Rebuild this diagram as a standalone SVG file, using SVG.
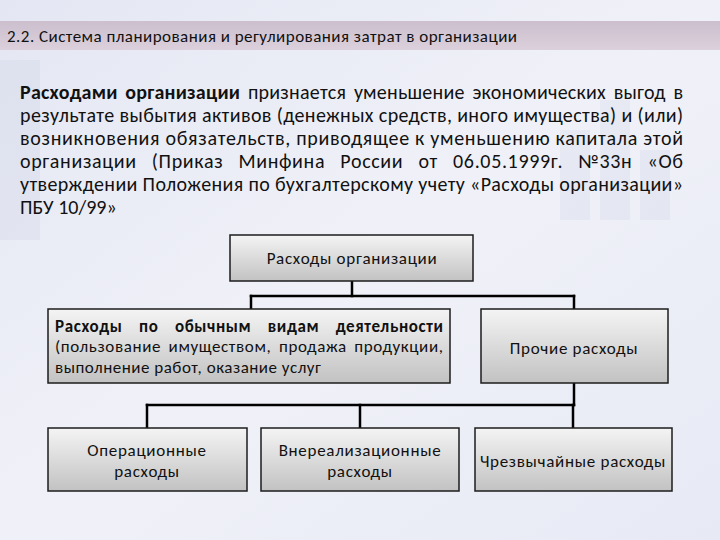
<svg xmlns="http://www.w3.org/2000/svg" width="720" height="540" viewBox="0 0 720 540">
<defs>
<linearGradient id="bg" x1="0" y1="0" x2="1" y2="1">
<stop offset="0" stop-color="#e4e7f3"/>
<stop offset="0.5" stop-color="#f0f1f8"/>
<stop offset="1" stop-color="#e7eaf5"/>
</linearGradient>
<linearGradient id="box" x1="0" y1="0" x2="0" y2="1">
<stop offset="0" stop-color="#f4f4f4"/>
<stop offset="1" stop-color="#c2c2c2"/>
</linearGradient>
<linearGradient id="band" x1="0" y1="0" x2="0" y2="1">
<stop offset="0" stop-color="#cdbfce"/>
<stop offset="1" stop-color="#dbd0dc"/>
</linearGradient>
</defs>
<style>
.t{font-family:Carlito,"Liberation Sans",Arial,sans-serif;fill:#111}
.p{font-size:20px}
.b{font-weight:bold}
.n rect{fill:url(#box);stroke:#1c1c1c;stroke-width:1.5}
.n text{font-size:17px;letter-spacing:0.7px;text-anchor:middle}
.n text.j{text-anchor:start;letter-spacing:0}
.c line{stroke:#000;stroke-width:2.5;stroke-linecap:square}
</style>
<rect width="720" height="540" fill="url(#bg)"/>
<g opacity="0.15" fill="#b8bfd8">
<rect x="0" y="60" width="40" height="180"/>
<rect x="560" y="130" width="30" height="90"/>
<rect x="600" y="100" width="30" height="120"/>
<rect x="640" y="150" width="30" height="70"/>
</g>
<rect x="0" y="21" width="720" height="29" fill="url(#band)"/>
<text class="t" x="7" y="42" font-size="17" textLength="510" lengthAdjust="spacing">2.2. Система планирования и регулирования затрат в организации</text>

<g class="t p">
<text y="99" x="20" textLength="663" lengthAdjust="spacing" word-spacing="3"><tspan class="b">Расходами организации</tspan> признается уменьшение экономических выгод в</text>
<text y="122" x="20" textLength="663" lengthAdjust="spacing">результате выбытия активов (денежных средств, иного имущества) и (или)</text>
<text y="145" x="20" textLength="663" lengthAdjust="spacing">возникновения обязательств, приводящее к уменьшению капитала этой</text>
<text y="168" x="20" textLength="663" lengthAdjust="spacing" word-spacing="10">организации (Приказ Минфина России от 06.05.1999г. №33н «Об</text>
<text y="191" x="20" textLength="663" lengthAdjust="spacing">утверждении Положения по бухгалтерскому учету «Расходы организации»</text>
<text y="214" x="20">ПБУ 10/99»</text>
</g>

<g class="c">
<line x1="352" y1="281" x2="352" y2="296"/>
<line x1="251" y1="296" x2="574" y2="296"/>
<line x1="251" y1="296" x2="251" y2="309"/>
<line x1="574" y1="296" x2="574" y2="309"/>
<line x1="574" y1="383" x2="574" y2="405"/>
<line x1="147" y1="405" x2="574" y2="405"/>
<line x1="147" y1="405" x2="147" y2="428"/>
<line x1="360" y1="405" x2="360" y2="428"/>
<line x1="573" y1="405" x2="573" y2="428"/>
</g>

<g id="root" class="n t">
<rect x="230" y="235" width="243" height="46"/>
<text x="352" y="264">Расходы организации</text>
</g>
<g id="ordinary" class="n t">
<rect x="48" y="309" width="402" height="74"/>
<text class="j b" x="55" y="332" textLength="388" lengthAdjust="spacing" word-spacing="12">Расходы по обычным видам деятельности</text>
<text class="j" x="55" y="352" textLength="388" lengthAdjust="spacing" word-spacing="3">(пользование имуществом, продажа продукции,</text>
<text class="j" x="55" y="373" style="letter-spacing:0.5px">выполнение работ, оказание услуг</text>
</g>
<g id="other" class="n t">
<rect x="481" y="309" width="187" height="74"/>
<text x="574" y="354">Прочие расходы</text>
</g>
<g id="operational" class="n t">
<rect x="48" y="428" width="199" height="63"/>
<text x="147" y="456">Операционные</text>
<text x="147" y="477">расходы</text>
</g>
<g id="nonoperating" class="n t">
<rect x="261" y="428" width="198" height="63"/>
<text x="360" y="456">Внереализационные</text>
<text x="360" y="477">расходы</text>
</g>
<g id="extraordinary" class="n t">
<rect x="475" y="428" width="197" height="63"/>
<text x="573" y="467">Чрезвычайные расходы</text>
</g>
</svg>
